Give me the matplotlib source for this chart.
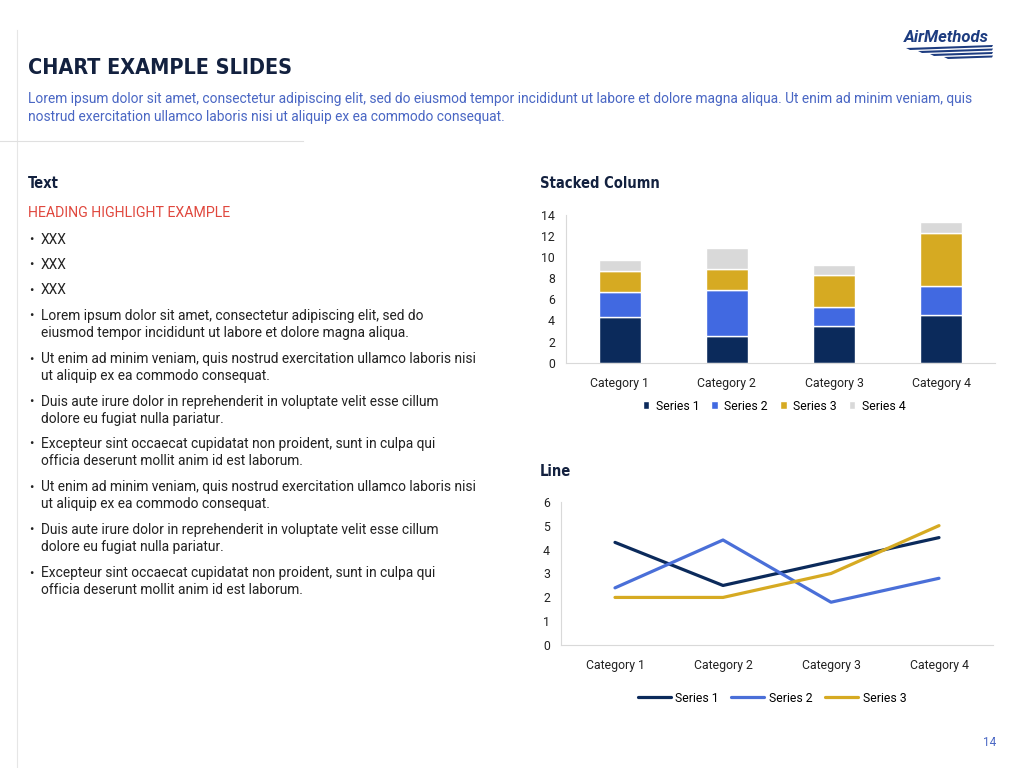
import matplotlib.pyplot as plt
import numpy as np
from matplotlib.patches import Polygon
from matplotlib.lines import Line2D

# data
categories = ["Category 1", "Category 2", "Category 3", "Category 4"]
bar_s1 = [4.3, 2.5, 3.5, 4.5]
bar_s2 = [2.4, 4.4, 1.8, 2.8]
bar_s3 = [2.0, 2.0, 3.0, 5.0]
bar_s4 = [1.0, 2.0, 1.0, 1.0]
bar_names = ["Series 1", "Series 2", "Series 3", "Series 4"]

line_s1 = [4.3, 2.5, 3.5, 4.5]
line_s2 = [2.4, 4.4, 1.8, 2.8]
line_s3 = [2.0, 2.0, 3.0, 5.0]
line_names = ["Series 1", "Series 2", "Series 3"]

bullets = [
    "XXX",
    "XXX",
    "XXX",
    "Lorem ipsum dolor sit amet, consectetur adipiscing elit, sed do\neiusmod tempor incididunt ut labore et dolore magna aliqua.",
    "Ut enim ad minim veniam, quis nostrud exercitation ullamco laboris nisi\nut aliquip ex ea commodo consequat.",
    "Duis aute irure dolor in reprehenderit in voluptate velit esse cillum\ndolore eu fugiat nulla pariatur.",
    "Excepteur sint occaecat cupidatat non proident, sunt in culpa qui\nofficia deserunt mollit anim id est laborum.",
    "Ut enim ad minim veniam, quis nostrud exercitation ullamco laboris nisi\nut aliquip ex ea commodo consequat.",
    "Duis aute irure dolor in reprehenderit in voluptate velit esse cillum\ndolore eu fugiat nulla pariatur.",
    "Excepteur sint occaecat cupidatat non proident, sunt in culpa qui\nofficia deserunt mollit anim id est laborum.",
]
bullet_y = [240, 265, 290, 316, 359, 402, 444, 487, 530, 573]

navy = "#0b2a5b"
blue = "#4169e1"
gold = "#d6aa22"
grey = "#d9d9d9"
title_col = "#13213f"
sub_col = "#4a67c4"
red = "#e0483e"
body_col = "#222222"

plt.rcParams['font.family'] = ['Roboto', 'DejaVu Sans']
W, H = 1024, 768
fig = plt.figure(figsize=(10.24, 7.68), dpi=100)
fig.patch.set_facecolor("white")


def px(x, y):
    return x / W, 1 - y / H


narrow = ['DejaVu Sans']

# decorations
fig.add_artist(Line2D([17 / W, 17 / W], [0, 1 - 30 / H], color="#e6e6e6", lw=0.8))
fig.add_artist(Line2D([0, 303 / W], [1 - 141 / H] * 2, color="#e0e0e0", lw=0.8))

# header
fig.text(*px(28, 68), "CHART EXAMPLE SLIDES", family=narrow, weight="bold",
         stretch="condensed", fontsize=15.5, color=title_col, va="center", ha="left")
fig.text(*px(28, 108),
         "Lorem ipsum dolor sit amet, consectetur adipiscing elit, sed do eiusmod tempor incididunt ut labore et dolore magna aliqua. Ut enim ad minim veniam, quis\n"
         "nostrud exercitation ullamco laboris nisi ut aliquip ex ea commodo consequat.",
         fontsize=9.9, color=sub_col, va="center", ha="left", linespacing=1.35)

# logo
fig.text(*px(904, 38), "AirMethods", weight="bold", style="italic",
         fontsize=12, color="#1d3c80", va="center", ha="left")
for i, (y0, x0) in enumerate([(48, 906), (51, 918), (54, 930), (57, 944)]):
    pts = [px(x0, y0), px(993, y0 - 3 + i * 0.5), px(992, y0 - 1 + i * 0.5), px(x0 + 4, y0 + 2)]
    fig.add_artist(Polygon(pts, closed=True, color="#1d3c80", lw=0))

# left column text
fig.text(*px(28, 183), "Text", family=narrow, weight="bold", stretch="condensed",
         fontsize=10.5, color=title_col, va="center")
fig.text(*px(28, 213), "HEADING HIGHLIGHT EXAMPLE", fontsize=10.2, color=red, va="center")
for txt, yy in zip(bullets, bullet_y):
    fig.text(*px(29, yy), "\u2022", fontsize=9.5, color=body_col, va="center")
    fig.text(*px(41, yy - 7), txt, fontsize=9.9, color=body_col, va="top",
             linespacing=1.3)

fig.text(*px(540, 183), "Stacked Column", family=narrow, weight="bold", stretch="condensed",
         fontsize=10.5, color=title_col, va="center")
fig.text(*px(540, 471), "Line", family=narrow, weight="bold", stretch="condensed",
         fontsize=10.5, color=title_col, va="center")
fig.text(*px(990, 743), "14", fontsize=8.5, color=sub_col, va="center", ha="center")


def style_axes(ax):
    for s in ["top", "right"]:
        ax.spines[s].set_visible(False)
    for s in ["left", "bottom"]:
        ax.spines[s].set_color("#d9d9d9")
        ax.spines[s].set_linewidth(0.8)
    ax.tick_params(length=0, labelsize=8.8, colors="#222222")
    ax.tick_params(axis="x", pad=10)
    ax.tick_params(axis="y", pad=8)


# stacked column
ax1 = fig.add_axes([566 / W, 1 - 362.7 / H, 429 / W, 147.7 / H])
x = np.arange(len(categories))
bottom = np.zeros(len(categories))
for vals, col, name in zip([bar_s1, bar_s2, bar_s3, bar_s4], [navy, blue, gold, grey], bar_names):
    ax1.bar(x, vals, bottom=bottom, width=0.39, color=col, edgecolor="white",
            linewidth=1.0, label=name)
    bottom += np.array(vals)
ax1.set_xlim(-0.5, 3.5)
ax1.set_ylim(0, 14)
ax1.set_yticks(range(0, 15, 2))
ax1.set_xticks(x)
ax1.set_xticklabels(categories)
style_axes(ax1)
ax1.legend(loc="center", bbox_to_anchor=(774 / W, 1 - 406 / H), bbox_transform=fig.transFigure,
           ncol=4, frameon=False, fontsize=8.8, handlelength=0.55, handleheight=0.55,
           handletextpad=0.5, columnspacing=1.0)

# line
ax2 = fig.add_axes([561 / W, 1 - 645.3 / H, 432 / W, 143.6 / H])
for vals, col, name in zip([line_s1, line_s2, line_s3], [navy, "#4a6fd8", gold], line_names):
    ax2.plot(x, vals, color=col, lw=2.3, label=name, solid_capstyle="round")
ax2.set_xlim(-0.5, 3.5)
ax2.set_ylim(0, 6)
ax2.set_yticks(range(0, 7))
ax2.set_xticks(x)
ax2.set_xticklabels(categories)
style_axes(ax2)
ax2.legend(loc="center", bbox_to_anchor=(772 / W, 1 - 698 / H), bbox_transform=fig.transFigure,
           ncol=3, frameon=False, fontsize=8.8, handlelength=2.7,
           handletextpad=0.4, columnspacing=1.0)

fig.savefig("out.png", dpi=100, facecolor="white")
